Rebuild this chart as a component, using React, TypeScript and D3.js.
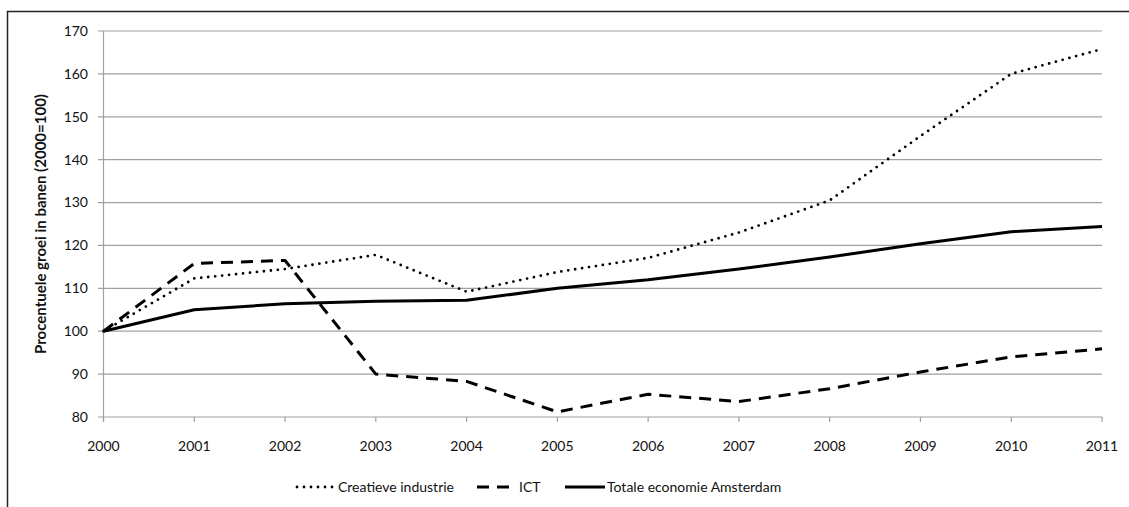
import React from "react";
import * as d3 from "d3";

const years = [2000, 2001, 2002, 2003, 2004, 2005, 2006, 2007, 2008, 2009, 2010, 2011];
const creatieve = [100, 112.3, 114.5, 117.8, 109.2, 113.8, 117.1, 123.0, 130.5, 145.5, 160.0, 165.8];
const ict = [100, 115.8, 116.5, 90.0, 88.3, 81.2, 85.3, 83.6, 86.6, 90.5, 94.0, 95.9];
const totale = [100, 105.0, 106.4, 107.0, 107.2, 110.0, 112.0, 114.5, 117.3, 120.4, 123.2, 124.4];
const yTicks = [80, 90, 100, 110, 120, 130, 140, 150, 160, 170];
const seriesNames = ["Creatieve industrie", "ICT", "Totale economie Amsterdam"];
const yLabel = "Procentuele groei in banen (2000=100)";

const W = 1129;
const H = 507;
const FONT = "Lato, 'Open Sans', sans-serif";

export default function App() {
  const x = d3.scaleLinear().domain([2000, 2011]).range([103.5, 1102]);
  const y = d3.scaleLinear().domain([80, 170]).range([417, 31]);
  const line = d3
    .line<number>()
    .x((_, i) => x(years[i]))
    .y((d) => y(d));

  const styles = [
    { dash: "0 7", cap: "round" as const, width: 2.8 },
    { dash: "12 8", cap: "butt" as const, width: 3 },
    { dash: "none", cap: "butt" as const, width: 3 },
  ];
  const data = [creatieve, ict, totale];

  const legend = [
    { x1: 297, x2: 336, tx: 338 },
    { x1: 477, x2: 509, tx: 519 },
    { x1: 565, x2: 605, tx: 607 },
  ];

  return (
    <svg
      width={W}
      height={H}
      style={{ position: "absolute", left: 0, top: 0, background: "#fff" }}
      fontFamily={FONT}
    >
      <rect x={0} y={0} width={W} height={H} fill="#fff" />
      <rect x={7.5} y={11.5} width={W + 20} height={H + 20} fill="none" stroke="#222" strokeWidth={1.5} />
      {yTicks.map((t) => (
        <g key={t}>
          <line x1={98} x2={x(2011)} y1={y(t)} y2={y(t)} stroke="#a0a0a0" strokeWidth={1.2} />
          <text x={88} y={y(t)} dy="0.35em" textAnchor="end" fontSize={14} fill="#111">
            {t}
          </text>
        </g>
      ))}
      <line x1={x(2000)} x2={x(2000)} y1={y(170)} y2={y(80) + 5} stroke="#a0a0a0" strokeWidth={1.2} />
      {years.map((yr) => (
        <g key={yr}>
          <line x1={x(yr)} x2={x(yr)} y1={y(80)} y2={y(80) + 5} stroke="#a0a0a0" strokeWidth={1.2} />
          <text x={x(yr)} y={446} dy="0.35em" textAnchor="middle" fontSize={14} fill="#111">
            {yr}
          </text>
        </g>
      ))}
      <text
        transform={`translate(41,${(y(80) + y(170)) / 2}) rotate(-90)`}
        textAnchor="middle"
        dy="0.35em"
        fontSize={15}
        fontWeight="bold"
        fill="#111"
      >
        {yLabel}
      </text>
      {data.map((d, i) => (
        <path
          key={i}
          d={line(d) || ""}
          fill="none"
          stroke="#000"
          strokeWidth={styles[i].width}
          strokeDasharray={styles[i].dash}
          strokeLinecap={styles[i].cap}
          strokeLinejoin="round"
        />
      ))}
      {legend.map((l, i) => (
        <g key={i}>
          <line
            x1={l.x1}
            x2={l.x2}
            y1={487}
            y2={487}
            stroke="#000"
            strokeWidth={styles[i].width}
            strokeDasharray={styles[i].dash}
            strokeLinecap={styles[i].cap}
          />
          <text x={l.tx} y={487} dy="0.35em" fontSize={14} fill="#111">
            {seriesNames[i]}
          </text>
        </g>
      ))}
    </svg>
  );
}
